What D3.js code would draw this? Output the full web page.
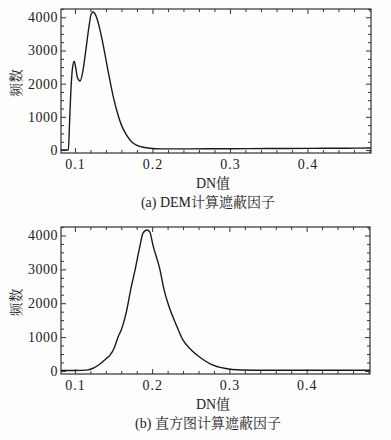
<!DOCTYPE html>
<html>
<head>
<meta charset="utf-8">
<script src="https://cdn.jsdelivr.net/npm/d3@7"></script>
<style>
  body { margin: 0; background: #fdfdfd; }
  #chart text { font-family: "Liberation Serif", "Noto Serif CJK SC", "Noto Sans CJK SC", serif !important; }
</style>
</head>
<body>
<svg id="chart"></svg>
<script>
// panel (a): DEM-based shading factor histogram
const dnA = [0.082, 0.088, 0.0915, 0.093, 0.095, 0.097, 0.099, 0.101, 0.103, 0.1065, 0.110, 0.114, 0.118, 0.121, 0.1236,
  0.127, 0.131, 0.1344, 0.139, 0.143, 0.1495, 0.155, 0.160, 0.166, 0.173, 0.180, 0.190, 0.200, 0.210, 0.25, 0.30, 0.35, 0.40, 0.45, 0.482];
const countA = [0, 0, 0, 800, 1900, 2500, 2680, 2480, 2200, 2080, 2350, 3000, 3700, 4100, 4160,
  4050, 3750, 3400, 2850, 2350, 1600, 1100, 750, 470, 250, 140, 75, 45, 35, 35, 40, 45, 50, 55, 60];

// panel (b): histogram-based shading factor histogram
const dnB = [0.082, 0.10, 0.115, 0.1236, 0.132, 0.141, 0.145, 0.1516, 0.156, 0.160, 0.1667, 0.173, 0.1774, 0.184, 0.188,
  0.1933, 0.197, 0.201, 0.2097, 0.216, 0.2226, 0.2312, 0.2398, 0.2506, 0.2635, 0.2764, 0.2935, 0.315, 0.35, 0.40, 0.482];
const countB = [15, 15, 25, 80, 197, 375, 452, 717, 1012, 1210, 1750, 2490, 2930, 3670, 4060,
  4160, 4100, 3717, 3030, 2340, 1850, 1357, 915, 620, 375, 197, 80, 30, 20, 20, 20];

const xTicks = [0.1, 0.2, 0.3, 0.4];
const yTicks = [0, 1000, 2000, 3000, 4000];
const yLabel = "频数";
const xLabel = "DN值";
const captions = ["(a) DEM计算遮蔽因子", "(b) 直方图计算遮蔽因子"];

const FONT = '"Liberation Serif", "Noto Serif CJK SC", "Noto Sans CJK SC", serif';
const W = 391, H = 440;
const svg = d3.select("#chart").attr("width", W).attr("height", H);

const panels = [
  { x: dnA, y: countA, left: 61, right: 371, top: 9, bottom: 153, caption: captions[0] },
  { x: dnB, y: countB, left: 61, right: 370, top: 227, bottom: 374, caption: captions[1] }
];

const xMinor = d3.range(0.1, 0.481, 0.02).map(v => +v.toFixed(2)).filter(v => !xTicks.includes(v));
const yMinor = d3.range(0, 4251, 250).filter(v => !yTicks.includes(v));

panels.forEach((p) => {
  const x = d3.scaleLinear().domain([0.082, 0.482]).range([p.left, p.right]);
  const y = d3.scaleLinear().domain([-90, 4250]).range([p.bottom, p.top]);
  const g = svg.append("g");

  // frame
  g.append("rect")
    .attr("x", p.left).attr("y", p.top)
    .attr("width", p.right - p.left).attr("height", p.bottom - p.top)
    .attr("fill", "none").attr("stroke", "#333").attr("stroke-width", 1.2);

  // major + minor ticks, inward on all sides
  const addAxis = (axis, tr) => {
    const a = g.append("g").attr("transform", tr).call(axis);
    a.attr("font-family", null);
    a.select(".domain").remove();
    a.selectAll("line").attr("stroke", "#333");
    return a;
  };
  const bx = addAxis(d3.axisBottom(x).tickValues(xTicks).tickSize(-5).tickPadding(6).tickFormat(d3.format(".1f")),
    `translate(0,${p.bottom})`);
  bx.selectAll("text").style("font-family", FONT).attr("font-size", 14).attr("letter-spacing", 1).attr("fill", "#222");
  addAxis(d3.axisBottom(x).tickValues(xMinor).tickSize(-3).tickFormat(""), `translate(0,${p.bottom})`);
  addAxis(d3.axisTop(x).tickValues(xTicks).tickSize(-5).tickFormat(""), `translate(0,${p.top})`);
  addAxis(d3.axisTop(x).tickValues(xMinor).tickSize(-3).tickFormat(""), `translate(0,${p.top})`);

  const ly = addAxis(d3.axisLeft(y).tickValues(yTicks).tickSize(-5).tickPadding(3).tickFormat(d3.format("d")),
    `translate(${p.left},0)`);
  ly.selectAll("text").style("font-family", FONT).attr("font-size", 14).attr("letter-spacing", 0.5).attr("fill", "#222");
  addAxis(d3.axisLeft(y).tickValues(yMinor).tickSize(-3).tickFormat(""), `translate(${p.left},0)`);
  addAxis(d3.axisRight(y).tickValues(yTicks).tickSize(-5).tickFormat(""), `translate(${p.right},0)`);
  addAxis(d3.axisRight(y).tickValues(yMinor).tickSize(-3).tickFormat(""), `translate(${p.right},0)`);

  // curve
  const line = d3.line().x(d => x(d[0])).y(d => y(d[1])).curve(d3.curveMonotoneX);
  g.append("path")
    .datum(p.x.map((v, i) => [v, p.y[i]]))
    .attr("d", line)
    .attr("fill", "none").attr("stroke", "#1a1a1a").attr("stroke-width", 1.4);

  // labels
  const midY = (p.top + p.bottom) / 2;
  g.append("text")
    .attr("transform", `translate(21,${midY + 2}) rotate(-90)`)
    .attr("text-anchor", "middle").attr("font-size", 14).attr("fill", "#222")
    .style("font-family", FONT)
    .text(yLabel);
  g.append("text")
    .attr("x", 213).attr("y", p.bottom + 35)
    .attr("text-anchor", "middle").attr("font-size", 14).attr("fill", "#222")
    .style("font-family", FONT)
    .text(xLabel);
  g.append("text")
    .attr("x", 208).attr("y", p.bottom + 54)
    .attr("text-anchor", "middle").attr("font-size", 14).attr("fill", "#222")
    .style("font-family", FONT)
    .text(p.caption);
});
</script>
</body>
</html>
